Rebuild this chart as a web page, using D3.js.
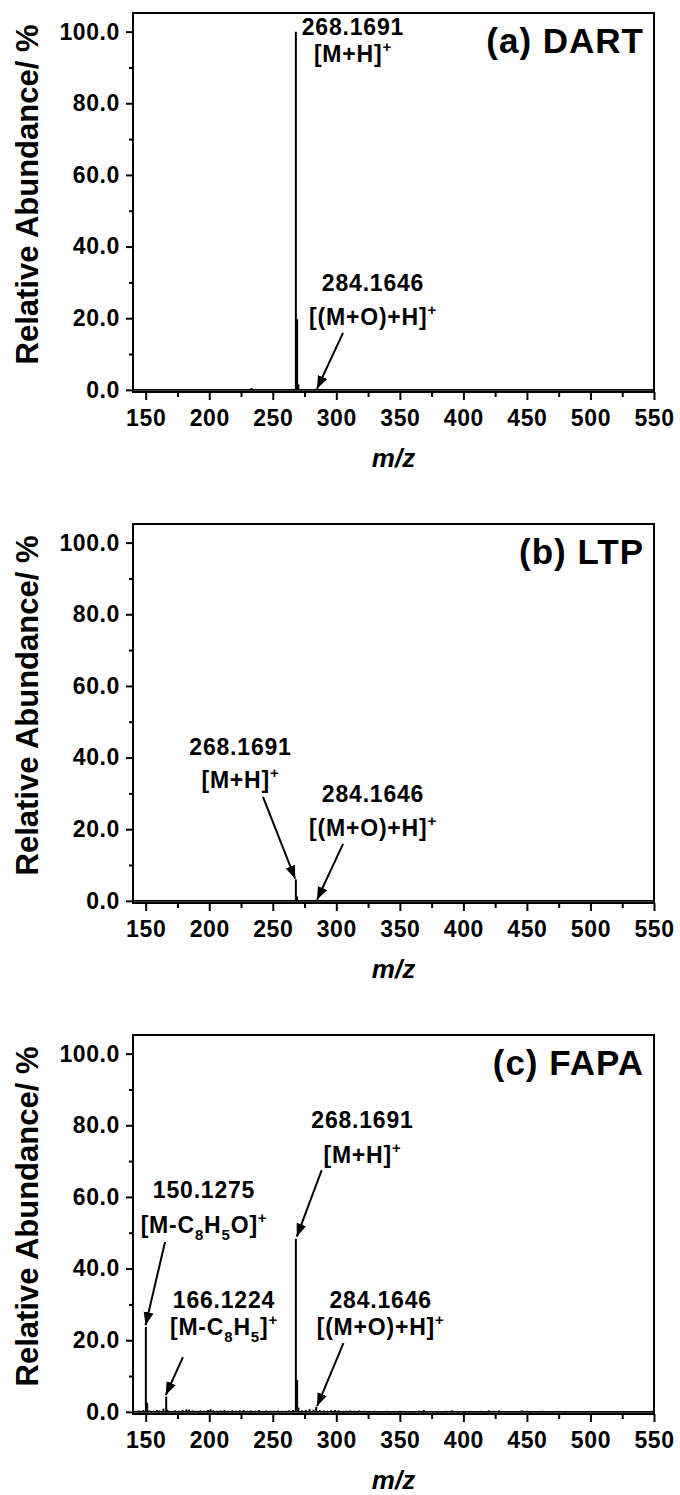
<!DOCTYPE html>
<html>
<head>
<meta charset="utf-8">
<script src="https://cdn.jsdelivr.net/npm/d3@7"></script>
<style>
  html, body { margin: 0; padding: 0; background: #fff; }
  svg { display: block; }
  text { font-family: "Liberation Sans", Arial, sans-serif; font-weight: bold; fill: #000; }
</style>
</head>
<body>
<svg id="chart" width="680" height="1495"></svg>
<script>
// ---------------- DATA ----------------
const panelTitles = ["(a) DART", "(b) LTP", "(c) FAPA"];
const xTicks = [150, 200, 250, 300, 350, 400, 450, 500, 550];
const xMinorTicks = [175, 225, 275, 325, 375, 425, 475, 525];
const yTicks = [0, 20, 40, 60, 80, 100];
const yMinorTicks = [10, 30, 50, 70, 90];

// Panel (a) DART: m/z and relative abundance
const dartMz  = [150, 233.3, 268.1691, 269.17, 270.17, 284.1646];
const dartAb  = [0.2, 0.5, 100, 19.7, 1.5, 0.3];

// Panel (b) LTP
const ltpMz   = [268.1691, 269.17, 284.1646];
const ltpAb   = [6.0, 1.2, 0.2];

// Panel (c) FAPA
const fapaMz  = [142, 145, 148, 150.1275, 151.13, 153, 156, 159, 161, 163.9, 166.1224, 167.1, 170, 173, 176, 179, 182, 184, 187, 190, 193, 196, 199, 201, 203, 206, 209, 212, 215, 218, 221, 224, 227, 230, 233, 236, 239, 242, 245, 248, 251, 254, 257, 260, 263, 266, 268.1691, 269.17, 270.2, 273, 276, 279, 282, 284.1646, 287, 290, 293, 296, 299, 302, 305, 308, 311, 314, 318, 322, 326, 330, 335, 340, 345, 350, 355, 360, 365, 369, 374, 380, 386, 391, 396, 402, 408, 414, 420, 424, 428, 432, 440, 446, 450, 456, 462, 529];
const fapaAb  = [0.3, 0.4, 0.5, 23.7, 2.5, 0.4, 0.3, 0.5, 0.4, 0.9, 4.3, 0.6, 0.3, 0.4, 0.3, 0.5, 0.7, 0.6, 0.4, 0.3, 0.4, 0.3, 0.5, 0.7, 0.4, 0.3, 0.4, 0.5, 0.3, 0.4, 0.3, 0.4, 0.5, 0.3, 0.4, 0.3, 0.5, 0.3, 0.4, 0.3, 0.3, 0.4, 0.3, 0.3, 0.4, 0.5, 48.3, 8.9, 1.2, 0.4, 0.5, 0.8, 0.6, 1.4, 0.5, 0.4, 0.3, 0.4, 0.5, 0.4, 0.3, 0.3, 0.4, 0.3, 0.4, 0.3, 0.2, 0.3, 0.2, 0.3, 0.2, 0.3, 0.2, 0.2, 0.3, 0.5, 0.2, 0.2, 0.3, 0.4, 0.2, 0.2, 0.2, 0.3, 0.4, 0.3, 0.4, 0.2, 0.2, 0.4, 0.3, 0.2, 0.3, 0.2];

// Annotations: label lines, label anchor (m/z, abundance), arrow from/to (m/z, abundance)
const dartLabels = [
  { lines: ["268.1691", "[M+H]^+"], mz: 313.1, ab: [99.06, 91.5], arrow: null },
  { lines: ["284.1646", "[(M+O)+H]^+"], mz: 328.9, ab: [27.5, 18.2], arrow: [305.3, 15.9, 284.8, 0.3] }
];
const ltpLabels = [
  { lines: ["268.1691", "[M+H]^+"], mz: 224.6, ab: [40.7, 31.5], arrow: [242.3, 29.0, 267.6, 6.2] },
  { lines: ["284.1646", "[(M+O)+H]^+"], mz: 328.9, ab: [27.5, 18.2], arrow: [305.3, 15.9, 284.8, 0.3] }
];
const fapaLabels = [
  { lines: ["150.1275", "[M-C_8H_5O]^+"], mz: 195.9, ab: [59.7, 49.9], arrow: [165.2, 47.4, 149.9, 24.2] },
  { lines: ["166.1224", "[M-C_8H_5]^+"], mz: 211.6, ab: [29.0, 21.5], arrow: [179.3, 15.3, 165.8, 4.7] },
  { lines: ["268.1691", "[M+H]^+"], mz: 320.6, ab: [79.2, 69.5], arrow: [288.5, 67.5, 268.9, 48.9] },
  { lines: ["284.1646", "[(M+O)+H]^+"], mz: 334.9, ab: [29.0, 21.5], arrow: [305.6, 19.2, 284.9, 1.6] }
];

const yLabelText = "Relative Abundance/ %";
const xLabelText = "m/z";

// ---------------- DRAW ----------------
const svg = d3.select("#chart");
const panelStep = 511;
const frame = { left: 133, right: 654, top: 13, bottom: 392 };

const x = d3.scaleLinear().domain([140, 550]).range([frame.left, frame.right]);
const y = d3.scaleLinear().domain([-0.6, 105.2]).range([frame.bottom, frame.top]);

const defs = svg.append("defs");
defs.append("marker")
  .attr("id", "arrowhead")
  .attr("markerUnits", "userSpaceOnUse")
  .attr("markerWidth", 14).attr("markerHeight", 12)
  .attr("refX", 13).attr("refY", 5)
  .attr("orient", "auto")
  .append("path")
  .attr("d", "M0,0 L13,5 L0,10 Z")
  .attr("fill", "#000");

const panels = [
  { title: panelTitles[0], mz: dartMz, ab: dartAb, labels: dartLabels },
  { title: panelTitles[1], mz: ltpMz, ab: ltpAb, labels: ltpLabels },
  { title: panelTitles[2], mz: fapaMz, ab: fapaAb, labels: fapaLabels }
];

function addRichText(sel, str) {
  // ^c => superscript char, _c => subscript char
  let i = 0, buf = "";
  const parts = [];
  while (i < str.length) {
    const ch = str[i];
    if ((ch === "^" || ch === "_") && i + 1 < str.length) {
      if (buf) { parts.push({ t: buf, k: 0 }); buf = ""; }
      parts.push({ t: str[i + 1], k: ch === "^" ? 1 : -1 });
      i += 2;
    } else { buf += ch; i++; }
  }
  if (buf) parts.push({ t: buf, k: 0 });
  let shift = 0;
  parts.forEach(p => {
    const ts = sel.append("tspan").text(p.t);
    let target = p.k === 1 ? -10 : (p.k === -1 ? 7 : 0);
    if (target - shift !== 0) ts.attr("dy", target - shift);
    shift = target;
    if (p.k !== 0) ts.attr("font-size", 15);
  });
}

panels.forEach((p, i) => {
  const g = svg.append("g").attr("transform", `translate(0,${i * panelStep})`);

  // baseline of spectrum
  g.append("line")
    .attr("x1", x(140)).attr("x2", x(550))
    .attr("y1", y(0)).attr("y2", y(0))
    .attr("stroke", "#000").attr("stroke-width", 1.6);

  // sticks
  const sticks = p.mz.map((m, j) => ({ mz: m, ab: p.ab[j] }));
  g.selectAll("line.stick").data(sticks).join("line")
    .attr("class", "stick")
    .attr("x1", d => x(d.mz)).attr("x2", d => x(d.mz))
    .attr("y1", y(0)).attr("y2", d => y(d.ab))
    .attr("stroke", "#000").attr("stroke-width", 2);

  // frame
  g.append("rect")
    .attr("x", frame.left).attr("y", frame.top)
    .attr("width", frame.right - frame.left).attr("height", frame.bottom - frame.top)
    .attr("fill", "none").attr("stroke", "#000").attr("stroke-width", 2);

  // axes
  const xAxis = g.append("g").attr("transform", `translate(0,${frame.bottom})`)
    .call(d3.axisBottom(x).tickValues(xTicks).tickFormat(d3.format("d")).tickSize(8).tickPadding(10));
  const xMinor = g.append("g").attr("transform", `translate(0,${frame.bottom})`)
    .call(d3.axisBottom(x).tickValues(xMinorTicks).tickFormat("").tickSize(5));
  const yAxis = g.append("g").attr("transform", `translate(${frame.left},0)`)
    .call(d3.axisLeft(y).tickValues(yTicks).tickFormat(d3.format(".1f")).tickSize(7).tickPadding(6));
  const yMinor = g.append("g").attr("transform", `translate(${frame.left},0)`)
    .call(d3.axisLeft(y).tickValues(yMinorTicks).tickFormat("").tickSize(4));

  [xAxis, xMinor, yAxis, yMinor].forEach(a => {
    a.select(".domain").remove();
    a.selectAll(".tick line").attr("stroke", "#000").attr("stroke-width", 2);
    a.selectAll(".tick text")
      .attr("font-family", '"Liberation Sans", Arial, sans-serif')
      .attr("font-weight", "bold")
      .attr("font-size", 23)
      .attr("letter-spacing", 0.6)
      .attr("fill", "#000");
  });

  // title
  g.append("text")
    .attr("x", 644).attr("y", 53)
    .attr("text-anchor", "end")
    .attr("font-size", 35)
    .attr("letter-spacing", 1)
    .text(p.title);

  // y label
  g.append("text")
    .attr("transform", `translate(38,${(frame.top + frame.bottom) / 2 - 8}) rotate(-90)`)
    .attr("text-anchor", "middle")
    .attr("font-size", 31)
    .text(yLabelText);

  // x label
  g.append("text")
    .attr("x", (frame.left + frame.right) / 2)
    .attr("y", 467)
    .attr("text-anchor", "middle")
    .attr("font-size", 26)
    .attr("font-style", "italic")
    .text(xLabelText);

  // annotations
  p.labels.forEach(l => {
    l.lines.forEach((line, k) => {
      const t = g.append("text")
        .attr("x", x(l.mz)).attr("y", y(l.ab[k]))
        .attr("text-anchor", "middle")
        .attr("font-size", 23)
        .attr("letter-spacing", 0.8);
      addRichText(t, line);
    });
    if (l.arrow) {
      g.append("line")
        .attr("x1", x(l.arrow[0])).attr("y1", y(l.arrow[1]))
        .attr("x2", x(l.arrow[2])).attr("y2", y(l.arrow[3]))
        .attr("stroke", "#000").attr("stroke-width", 2)
        .attr("marker-end", "url(#arrowhead)");
    }
  });
});
</script>
</body>
</html>
